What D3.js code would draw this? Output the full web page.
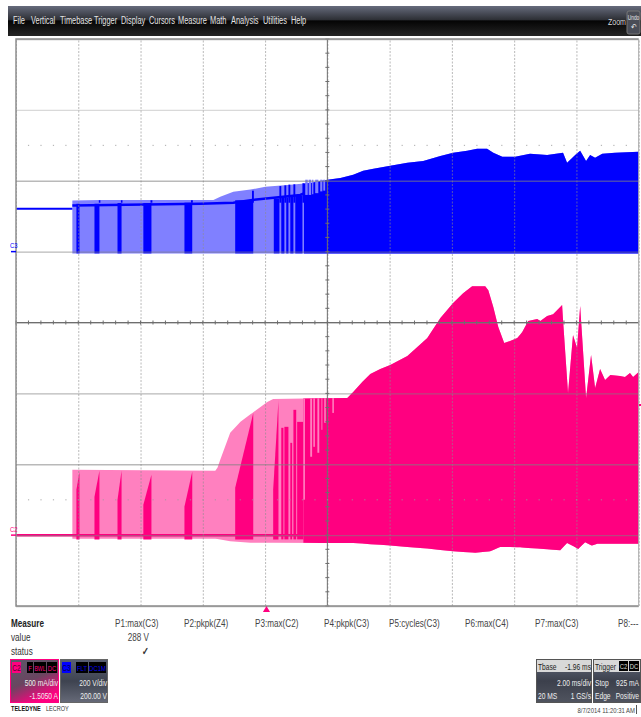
<!DOCTYPE html>
<html>
<head>
<meta charset="utf-8">
<script src="https://d3js.org/d3.v7.min.js"></script>
<style>
  body { margin: 0; background: #fff; }
  svg { display: block; }
  text { font-family: "Liberation Sans", sans-serif; }
</style>
</head>
<body>
<div id="chart"></div>
<script>
// ---- grid divisions ----
const timeTicks = [-8.04, -6.04, -4.04, -2.04, -0.04, 1.96, 3.96, 5.96, 7.96, 9.96, 11.96];
const voltTicks = [-1000, -800, -600, -400, -200, 0, 200, 400, 600];

// ---- C3 (blue, volts), time in ms ----
const blueTime = [-6.23, -5.33, -2.12, -1.70, -1.48, -1.06, -0.51, -0.03, 0.77, 1.41, 1.96, 2.38, 2.79, 3.11, 3.44, 3.98, 4.53, 5.04, 5.59, 6.00, 6.45, 6.77, 7.09, 7.29, 7.58, 7.99, 8.47, 9.02, 9.53, 9.66, 9.92, 10.08, 10.27, 10.40, 10.56, 10.79, 11.20, 11.96];
const blueUpper = [144, 146, 146, 146, 155, 169, 175, 183, 189, 194, 203, 208, 217, 228, 234, 242, 251, 256, 270, 279, 285, 290, 290, 279, 268, 268, 276, 273, 279, 251, 273, 285, 256, 273, 265, 276, 279, 282];
const blueLower = -5;
const blueFlatTime = [-8.04, -6.23];
const blueFlatV = [121, 121];
const blueMidTime = [-6.23, -2.12, -1.06, -0.45, 1.09, 1.89];
const blueMidV = [130, 135, 138, 146, 160, 190];
const blueBurstStart = [-6.10, -5.52, -4.78, -3.95, -2.63, -1.00, 0.24, 0.48, 0.64, 0.77, 0.93];
const blueBurstEnd = [-6.00, -5.36, -4.65, -3.69, -2.38, -0.42, 0.42, 0.58, 0.71, 0.87, 1.16];
const blueBurstTop = [135, 135, 137, 137, 138, 145, 150, 152, 153, 155, 158];
const blueSpikeStart = [-5.38, -4.67, -3.72, -2.42, -0.46, 0.42, 0.58, 0.71, 0.87, 1.16];
const blueSpikeEnd = [-5.33, -4.62, -3.66, -2.36, -0.40, 0.48, 0.64, 0.77, 0.93, 1.21];
const blueSpikeTop = [145, 145, 145, 145, 172, 185, 187, 189, 190, 193];
const blueDenseFrom = 1.21;
const blueGapStart = [1.25, 1.36, 1.47, 1.57, 1.73, 1.83];
const blueGapEnd = [1.33, 1.44, 1.51, 1.67, 1.80, 1.89];
const blueGapLow = [160, 160, 162, 165, 170, 172];

// ---- C2 (pink, amps) ----
const redTime = [-6.23, -1.64, -1.57, -1.48, -1.16, -0.83, -0.45, 0.03, 0.22, 2.60, 2.79, 3.08, 3.34, 3.66, 3.98, 4.53, 4.85, 5.17, 5.59, 6.00, 6.32, 6.61, 7.03, 7.13, 7.29, 7.45, 7.64, 7.83, 8.06, 8.22, 8.41, 8.70, 8.80, 9.02, 9.21, 9.50, 9.53, 9.69, 9.85, 9.98, 10.08, 10.27, 10.43, 10.56, 10.72, 10.88, 11.05, 11.36, 11.52, 11.68, 11.78, 11.96];
const redUpper = [0.461, 0.454, 0.475, 0.532, 0.722, 0.799, 0.862, 0.940, 0.961, 0.968, 1.010, 1.081, 1.137, 1.172, 1.200, 1.264, 1.327, 1.390, 1.531, 1.637, 1.707, 1.756, 1.756, 1.728, 1.609, 1.468, 1.355, 1.369, 1.390, 1.433, 1.510, 1.524, 1.510, 1.545, 1.559, 1.623, 1.517, 1.003, 1.412, 1.320, 1.616, 0.968, 1.271, 1.038, 1.172, 1.095, 1.130, 1.123, 1.116, 1.144, 1.116, 1.151];
const redLowTime = [-6.23, -1.64, -1.16, -0.51, 1.73, 2.79, 3.88, 4.94, 6.00, 6.71, 7.19, 7.51, 8.15, 9.44, 9.66, 10.02, 10.24, 10.46, 10.63, 11.96];
const redLower = [-0.025, -0.025, -0.044, -0.053, -0.055, -0.055, -0.072, -0.090, -0.114, -0.125, -0.114, -0.083, -0.086, -0.107, -0.055, -0.097, -0.051, -0.074, -0.060, -0.060];
const redFlatTime = [-8.04, 1.19];
const redFlatA = [0, 0];
const redBurstStart = [-6.10, -5.52, -4.78, -3.95, -2.63, -1.00, 0.22, 0.48, 0.58, 0.77, 0.87, 0.99];
const redBurstEnd = [-6.00, -5.36, -4.65, -3.69, -2.38, -0.42, 0.39, 0.55, 0.71, 0.83, 0.96, 1.19];
const redBurstLow = [0.320, 0.271, 0.250, 0.215, 0.201, 0.334, 0.320, 0.757, 0.764, 0.651, 0.884, 0.799];
const redBurstHigh = [0.447, 0.454, 0.454, 0.426, 0.447, 0.862, 0.954, 0.757, 0.764, 0.651, 0.884, 0.799];
const redDenseFrom = 1.19;
const redGapStart = [1.19, 1.41, 1.51, 1.64, 1.77, 1.86, 2.12];
const redGapEnd = [1.24, 1.47, 1.56, 1.70, 1.80, 1.91, 2.17];
const redGapLow = [0.250, 0.553, 0.623, 0.581, 0.743, 0.792, 0.862];

// ---- texts ----
const menuItems = ["File", "Vertical", "Timebase", "Trigger", "Display", "Cursors", "Measure", "Math", "Analysis", "Utilities", "Help"];
const menuX = [13, 31, 60, 94, 121, 149, 178, 210, 231, 263, 291];
const paramNames = ["P1:max(C3)", "P2:pkpk(Z4)", "P3:max(C2)", "P4:pkpk(C3)", "P5:cycles(C3)", "P6:max(C4)", "P7:max(C3)", "P8:---"];
const paramX = [115, 184, 255, 324, 389, 465, 535, 618];
const rowNames = ["value", "status"];

const width = 641, height = 717;
const plot = { left: 16, right: 638.7, top: 39, bottom: 606 };
const NARROW = 0.74;  // no narrow font installed, squeeze the regular one

const svg = d3.select("#chart").append("svg").attr("width", width).attr("height", height);
const defs = svg.append("defs");

const x = d3.scaleLinear().domain([-8.04, 11.96]).range([plot.left, plot.right]);
const yV = d3.scaleLinear().domain([-1000, 600]).range([plot.bottom, plot.top]);
const yA = d3.scaleLinear().domain([-0.5, 3.5]).range([plot.bottom, plot.top]);

function gradient(id, stops, x2, y2) {
  const g = defs.append("linearGradient").attr("id", id)
    .attr("x1", 0).attr("y1", 0).attr("x2", x2).attr("y2", y2);
  stops.forEach(s => g.append("stop").attr("offset", s[0]).attr("stop-color", s[1]));
}
gradient("menuGrad", [[0, "#666b7c"], [0.45, "#2e3036"], [0.5, "#050505"], [1, "#242424"]], 0, 1);
gradient("panelGrad", [[0, "#5a6072"], [0.5, "#3e4350"], [1, "#666a78"]], 0, 1);
gradient("c2Grad", [[0, "#5a5a6a"], [0.55, "#6a4560"], [1, "#ff0080"]], 0.5, 1);
gradient("tbGrad", [[0, "#60687a"], [0.5, "#3c404c"], [1, "#50545f"]], 0, 1);

function label(px, py, str, size, fill, anchor, weight) {
  const t = svg.append("text").attr("x", px).attr("y", py)
    .attr("font-size", size).attr("fill", fill)
    .attr("text-anchor", anchor || "start")
    .attr("font-weight", weight || "normal")
    .text(str);
  const w = t.node().getComputedTextLength();
  t.attr("textLength", w * NARROW).attr("lengthAdjust", "spacingAndGlyphs");
  return t;
}

// menu bar
svg.append("rect").attr("x", 8).attr("y", 6).attr("width", 633).attr("height", 30).attr("fill", "url(#menuGrad)");
menuItems.forEach((m, i) => label(menuX[i], 24, m, 10, "#e4e4e4"));
label(608, 25, "Zoom", 9.5, "#dddddd");
svg.append("rect").attr("x", 627).attr("y", 11).attr("width", 13).attr("height", 23).attr("rx", 2)
  .attr("fill", "#4a4d57").attr("stroke", "#777");
label(633.5, 20, "Undo", 6.5, "#e8e8e8", "middle");
label(633.5, 30, "\u21B6", 9, "#e8e8e8", "middle");

// clip rects for the part where the switching gets too dense to resolve
function clipFrom(id, t) {
  defs.append("clipPath").attr("id", id).append("rect")
    .attr("x", x(t)).attr("y", 0).attr("width", plot.right - x(t) + 1).attr("height", height);
}
clipFrom("blueDense", blueDenseFrom);
clipFrom("redDense", redDenseFrom);

// ---- blue trace ----
const BLUE = "#0000ff", BLUE_LT = "#8080ff";
const blueRows = blueTime.map((t, i) => ({ t, v: blueUpper[i] }));
const blueArea = d3.area().x(d => x(d.t)).y0(yV(blueLower)).y1(d => yV(d.v));

svg.append("path").datum(blueRows).attr("d", blueArea).attr("fill", BLUE_LT);
svg.append("path")
  .datum(blueFlatTime.map((t, i) => [x(t), yV(blueFlatV[i])]))
  .attr("d", d3.line()).attr("fill", "none").attr("stroke", BLUE).attr("stroke-width", 2);
svg.append("path")
  .datum(blueMidTime.map((t, i) => [x(t), yV(blueMidV[i])]))
  .attr("d", d3.line()).attr("fill", "none").attr("stroke", BLUE).attr("stroke-width", 2.5);
blueBurstStart.forEach((t, i) => {
  svg.append("rect").attr("x", x(t)).attr("width", x(blueBurstEnd[i]) - x(t))
    .attr("y", yV(blueBurstTop[i])).attr("height", yV(blueLower) - yV(blueBurstTop[i]))
    .attr("fill", BLUE);
});
blueSpikeStart.forEach((t, i) => {
  const y0 = yV(blueMidV[2]);
  svg.append("rect").attr("x", x(t)).attr("width", x(blueSpikeEnd[i]) - x(t))
    .attr("y", yV(blueSpikeTop[i])).attr("height", y0 - yV(blueSpikeTop[i]))
    .attr("fill", BLUE);
});
svg.append("path").datum(blueRows).attr("d", blueArea).attr("fill", BLUE).attr("clip-path", "url(#blueDense)");
blueGapStart.forEach((t, i) => {
  svg.append("rect").attr("x", x(t)).attr("width", x(blueGapEnd[i]) - x(t))
    .attr("y", yV(203)).attr("height", yV(blueGapLow[i]) - yV(203))
    .attr("fill", BLUE_LT);
});

// ---- pink trace ----
const PINK = "#ff0080", PINK_LT = "#ff80bf";
const lowerAt = d3.scaleLinear().domain(redLowTime).range(redLower);
const allTimes = Array.from(new Set(redTime.concat(redLowTime))).sort(d3.ascending);
const upperAt = d3.scaleLinear().domain(redTime).range(redUpper);
const redRows = allTimes.map(t => ({ t, hi: upperAt(t), lo: lowerAt(t) }));
const redArea = d3.area().x(d => x(d.t)).y0(d => yA(d.lo)).y1(d => yA(d.hi));

svg.append("path").datum(redRows).attr("d", redArea).attr("fill", PINK_LT);
redBurstStart.forEach((t, i) => {
  const pts = [[x(t), yA(-0.03)], [x(t), yA(redBurstLow[i])], [x(redBurstEnd[i]), yA(redBurstHigh[i])], [x(redBurstEnd[i]), yA(-0.03)]];
  svg.append("polygon").attr("points", pts.join(" ")).attr("fill", PINK);
});
svg.append("path")
  .datum(redFlatTime.map((t, i) => [x(t), yA(redFlatA[i])]))
  .attr("d", d3.line()).attr("fill", "none").attr("stroke", PINK).attr("stroke-width", 2.5);
svg.append("path").datum(redRows).attr("d", redArea).attr("fill", PINK).attr("clip-path", "url(#redDense)");
redGapStart.forEach((t, i) => {
  svg.append("rect").attr("x", x(t)).attr("width", x(redGapEnd[i]) - x(t))
    .attr("y", yA(upperAt(t))).attr("height", yA(redGapLow[i]) - yA(upperAt(t)))
    .attr("fill", PINK_LT);
});

// ---- grid on top of the traces ----
const gridV = svg.append("g").attr("transform", `translate(0,${plot.bottom})`)
  .call(d3.axisBottom(x).tickValues(timeTicks).tickSize(plot.top - plot.bottom).tickFormat(""));
gridV.select(".domain").remove();
gridV.selectAll("line").attr("stroke", "#8c8c8c").attr("stroke-opacity", 0.6).attr("stroke-dasharray", "2,1.5");

const gridH = svg.append("g").attr("transform", `translate(${plot.left},0)`)
  .call(d3.axisRight(yV).tickValues(voltTicks).tickSize(plot.right - plot.left).tickFormat(""));
gridH.select(".domain").remove();
gridH.selectAll("line").attr("stroke", "#808080")
  .attr("stroke-opacity", d => d === 400 ? 0.3 : 0.55).attr("stroke-width", 1.3);

// centre cross, darker, with minor ticks
const midX = x(timeTicks[5]), midY = yV(voltTicks[4]);
svg.append("line").attr("x1", midX).attr("x2", midX).attr("y1", plot.top).attr("y2", plot.bottom)
  .attr("stroke", "#6e6e6e").attr("stroke-width", 1);
svg.append("line").attr("x1", plot.left).attr("x2", plot.right).attr("y1", midY).attr("y2", midY)
  .attr("stroke", "#6e6e6e").attr("stroke-width", 1);
d3.range(-1000, 600.1, 40).forEach(v => {
  svg.append("line").attr("x1", midX - 2).attr("x2", midX + 2).attr("y1", yV(v)).attr("y2", yV(v))
    .attr("stroke", "#6e6e6e");
});
d3.range(-8.04, 11.97, 0.4).forEach(t => {
  svg.append("line").attr("x1", x(t)).attr("x2", x(t)).attr("y1", midY - 2).attr("y2", midY + 2)
    .attr("stroke", "#6e6e6e");
});
// dotted rows half way in the 2nd and 7th divisions
[300, -700].forEach(v => {
  d3.range(-8.04, 11.97, 0.4).forEach(t => {
    svg.append("rect").attr("x", x(t) - 0.5).attr("y", yV(v) - 0.5).attr("width", 1.2).attr("height", 1.2)
      .attr("fill", "#9a9a9a").attr("opacity", 0.7);
  });
});

// frame
svg.append("path").attr("d", `M${plot.right},${plot.top}H${plot.left}V${plot.bottom}H${plot.right}`)
  .attr("fill", "none").attr("stroke", "#8e8e8e").attr("stroke-width", 1.5);
svg.append("line").attr("x1", plot.right).attr("x2", plot.right).attr("y1", plot.top).attr("y2", plot.bottom)
  .attr("stroke", "#aaa");

// channel markers
label(10, 248, "C3", 8, BLUE);
svg.append("line").attr("x1", 11).attr("x2", 16).attr("y1", yV(0)).attr("y2", yV(0)).attr("stroke", BLUE).attr("stroke-width", 1.5);
label(10, 532, "C2", 8, PINK);
svg.append("line").attr("x1", 11).attr("x2", 16).attr("y1", yA(0)).attr("y2", yA(0)).attr("stroke", PINK).attr("stroke-width", 1.5);
svg.append("rect").attr("x", 639).attr("y", 404).attr("width", 2).attr("height", 2).attr("fill", PINK);

// trigger marker
svg.append("path").attr("d", d3.symbol().type(d3.symbolTriangle).size(22))
  .attr("transform", "translate(266.5,610)").attr("fill", PINK);

// measure table
label(11, 627, "Measure", 11, "#222", "start", "bold");
rowNames.forEach((r, i) => label(11, 641 + i * 14, r, 11, "#333"));
paramNames.forEach((p, i) => label(paramX[i], 627, p, 11, "#444"));
label(149, 641, "288 V", 11, "#444", "end");
label(149, 655, "\u2713", 11, "#333", "end", "bold");

// channel descriptors
function chip(px, py, w, h, bg, str, col, size) {
  svg.append("rect").attr("x", px).attr("y", py).attr("width", w).attr("height", h).attr("fill", bg);
  label(px + w / 2, py + h - 2.5, str, size || 8, col, "middle");
}
svg.append("rect").attr("x", 10.5).attr("y", 659.5).attr("width", 48).attr("height", 43)
  .attr("fill", "url(#c2Grad)").attr("stroke", PINK);
chip(12, 662, 9, 11, PINK, "C2", "#5a0030", 9);
chip(27, 662, 6, 11, "#000", "F", PINK);
chip(34, 662, 12, 11, "#000", "BWL", PINK, 7);
chip(47, 662, 10, 11, "#000", "DC", PINK);
label(58, 686, "500 mA/div", 9, "#eee", "end");
label(58, 699, "-1.5050 A", 9, "#eee", "end");

svg.append("rect").attr("x", 60.5).attr("y", 659.5).attr("width", 47).attr("height", 43)
  .attr("fill", "url(#panelGrad)").attr("stroke", "#666");
chip(62, 662, 9, 11, BLUE, "C3", "#000050", 9);
chip(76, 662, 12, 11, "#000", "FLT", BLUE);
chip(89, 662, 17, 11, "#000", "DC1M", BLUE);
label(107, 686, "200 V/div", 9, "#eee", "end");
label(107, 699, "200.00 V", 9, "#eee", "end");

label(11, 711, "TELEDYNE", 7.5, "#111", "start", "bold");
label(46, 711, "LECROY", 7.5, "#333");

// timebase + trigger descriptors
svg.append("rect").attr("x", 536.5).attr("y", 659.5).attr("width", 55).attr("height", 43)
  .attr("fill", "url(#tbGrad)").attr("stroke", "#555");
svg.append("rect").attr("x", 537).attr("y", 660).attr("width", 54).attr("height", 12).attr("fill", "#d8d8d8");
label(538, 670, "Tbase", 9, "#222");
label(591, 670, "-1.96 ms", 9, "#222", "end");
label(591, 686, "2.00 ms/div", 9, "#eee", "end");
label(538, 699, "20 MS", 9, "#eee");
label(591, 699, "1 GS/s", 9, "#eee", "end");

svg.append("rect").attr("x", 593.5).attr("y", 659.5).attr("width", 47).attr("height", 43)
  .attr("fill", "url(#tbGrad)").attr("stroke", "#555");
svg.append("rect").attr("x", 594).attr("y", 660).attr("width", 46).attr("height", 12).attr("fill", "#d8d8d8");
label(595, 670, "Trigger", 9, "#222");
chip(619, 661, 9, 10, "#000", "C2", "#ddd");
chip(629, 661, 10, 10, "#000", "DC", "#ddd");
label(595, 686, "Stop", 9, "#eee");
label(639, 686, "925 mA", 9, "#eee", "end");
label(595, 699, "Edge", 9, "#eee");
label(639, 699, "Positive", 9, "#eee", "end");

label(635, 713, "8/7/2014 11:20:31 AM", 8, "#444", "end");
svg.append("line").attr("x1", 636.5).attr("x2", 636.5).attr("y1", 705).attr("y2", 714).attr("stroke", "#555");
</script>
</body>
</html>
